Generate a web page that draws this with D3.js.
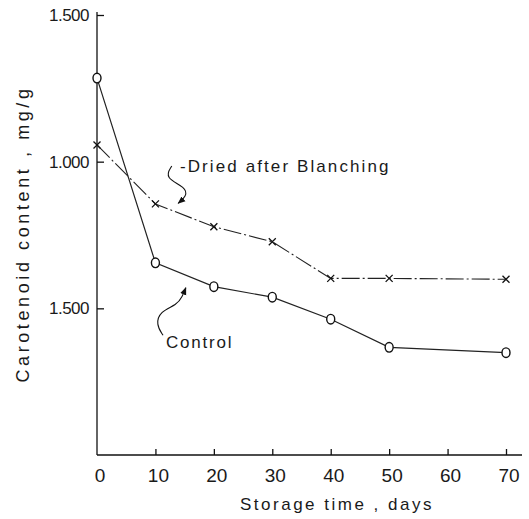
<!DOCTYPE html>
<html>
<head>
<meta charset="utf-8">
<script src="https://cdn.jsdelivr.net/npm/d3@7"></script>
<style>
  body { margin: 0; background: #fff; }
  text { font-family: "Liberation Sans", Arial, sans-serif; fill: #1a1a1a; }
</style>
</head>
<body>
<div id="chart"></div>
<script>
// storage days and carotenoid content (mg/g)
var days = [0, 10, 20, 30, 40, 50, 70];
var control = [1.285, 0.655, 0.574, 0.538, 0.463, 0.367, 0.349];
var blanched = [1.057, 0.856, 0.778, 0.727, 0.602, 0.602, 0.599];
var xTicks = [0, 10, 20, 30, 40, 50, 60, 70];
var yTicks = [1.5, 1.0, 0.5];
var yTickLabels = ["1.500", "1.000", "1.500"];

// hand drawn pointers, in data units
var blanchedPointer = [[12.8, 0.985], [11.5, 0.945], [15.3, 0.912], [15.3, 0.882], [13.9, 0.858]];
var controlPointer = [[11.3, 0.408], [10.1, 0.445], [10.8, 0.49], [13.7, 0.512], [14.6, 0.54], [15.2, 0.57]];

var W = 529, H = 519;
var x = d3.scaleLinear().domain([0, 70]).range([97, 506]);
var y = d3.scaleLinear().domain([0, 1.5]).range([455, 15]);

var svg = d3.select("#chart").append("svg")
    .attr("width", W)
    .attr("height", H);

svg.append("defs").append("marker")
    .attr("id", "head")
    .attr("viewBox", "0 0 10 10")
    .attr("refX", 9).attr("refY", 5)
    .attr("markerWidth", 7).attr("markerHeight", 7)
    .attr("orient", "auto")
  .append("path")
    .attr("d", "M0,1 L10,5 L0,9 Z")
    .attr("fill", "#111");

// axes
var xAxis = d3.axisBottom(x).tickValues(xTicks.slice(1)).tickSize(-6).tickFormat("");
svg.append("g")
    .attr("transform", "translate(0," + y(0) + ")")
    .call(xAxis)
    .call(function(g) {
      g.select(".domain").attr("d", "M" + x(0) + ",0H522");
      g.selectAll("line, path").attr("stroke", "#111").attr("stroke-width", 1.3);
    });

var yAxis = d3.axisLeft(y).tickValues(yTicks).tickSize(-7).tickFormat("");
svg.append("g")
    .attr("transform", "translate(" + x(0) + ",0)")
    .call(yAxis)
    .call(function(g) {
      g.select(".domain").attr("d", "M0," + (y(1.5) - 3) + "V" + y(0));
      g.selectAll("line, path").attr("stroke", "#111").attr("stroke-width", 1.3);
    });

svg.selectAll(".xlab")
  .data(xTicks)
  .enter().append("text")
    .attr("class", "xlab")
    .attr("x", function(d) { return x(d) + 3; })
    .attr("y", 482)
    .attr("text-anchor", "middle")
    .style("font-size", "19px")
    .text(function(d) { return d; });

svg.selectAll(".ylab")
  .data(yTicks)
  .enter().append("text")
    .attr("class", "ylab")
    .attr("x", 89)
    .attr("y", function(d) { return y(d) + 6; })
    .attr("text-anchor", "end")
    .style("font-size", "17px")
    .style("letter-spacing", "-0.5px")
    .text(function(d, i) { return yTickLabels[i]; });

svg.append("text")
    .attr("x", 337)
    .attr("y", 510)
    .attr("text-anchor", "middle")
    .style("font-size", "17px")
    .style("letter-spacing", "2.5px")
    .text("Storage time , days");

svg.append("text")
    .attr("transform", "translate(29,234) rotate(-90)")
    .attr("text-anchor", "middle")
    .style("font-size", "18px")
    .style("letter-spacing", "3.6px")
    .text("Carotenoid content , mg/g");

// series
var line = d3.line()
    .x(function(d, i) { return x(days[i]); })
    .y(function(d) { return y(d); });

svg.append("path")
    .datum(blanched)
    .attr("d", line)
    .attr("fill", "none")
    .attr("stroke", "#222")
    .attr("stroke-width", 1.1)
    .attr("stroke-dasharray", "18,3,2,3");

svg.append("path")
    .datum(control)
    .attr("d", line)
    .attr("fill", "none")
    .attr("stroke", "#222")
    .attr("stroke-width", 1.2);

svg.selectAll(".ctrl")
  .data(control)
  .enter().append("ellipse")
    .attr("class", "ctrl")
    .attr("cx", function(d, i) { return x(days[i]); })
    .attr("cy", function(d) { return y(d); })
    .attr("rx", 4)
    .attr("ry", 4.8)
    .attr("fill", "#fff")
    .attr("stroke", "#111")
    .attr("stroke-width", 1.4);

svg.selectAll(".blx")
  .data(blanched)
  .enter().append("path")
    .attr("class", "blx")
    .attr("transform", function(d, i) { return "translate(" + x(days[i]) + "," + y(d) + ")"; })
    .attr("d", "M-3.5,-3.5L3.5,3.5M-3.5,3.5L3.5,-3.5")
    .attr("stroke", "#111")
    .attr("stroke-width", 1.3);

// labels and pointers
var curve = d3.line()
    .x(function(d) { return x(d[0]); })
    .y(function(d) { return y(d[1]); })
    .curve(d3.curveBasis);

svg.append("path")
    .datum(blanchedPointer)
    .attr("d", curve)
    .attr("fill", "none")
    .attr("stroke", "#111")
    .attr("stroke-width", 1.1)
    .attr("marker-end", "url(#head)");

svg.append("path")
    .datum(controlPointer)
    .attr("d", curve)
    .attr("fill", "none")
    .attr("stroke", "#111")
    .attr("stroke-width", 1.1)
    .attr("marker-end", "url(#head)");

svg.append("text")
    .attr("x", x(14.2))
    .attr("y", y(0.965))
    .style("font-size", "17px")
    .style("letter-spacing", "2.1px")
    .text("-Dried after Blanching");

svg.append("text")
    .attr("x", x(11.8))
    .attr("y", y(0.365))
    .style("font-size", "17px")
    .style("letter-spacing", "1.8px")
    .text("Control");
</script>
</body>
</html>
